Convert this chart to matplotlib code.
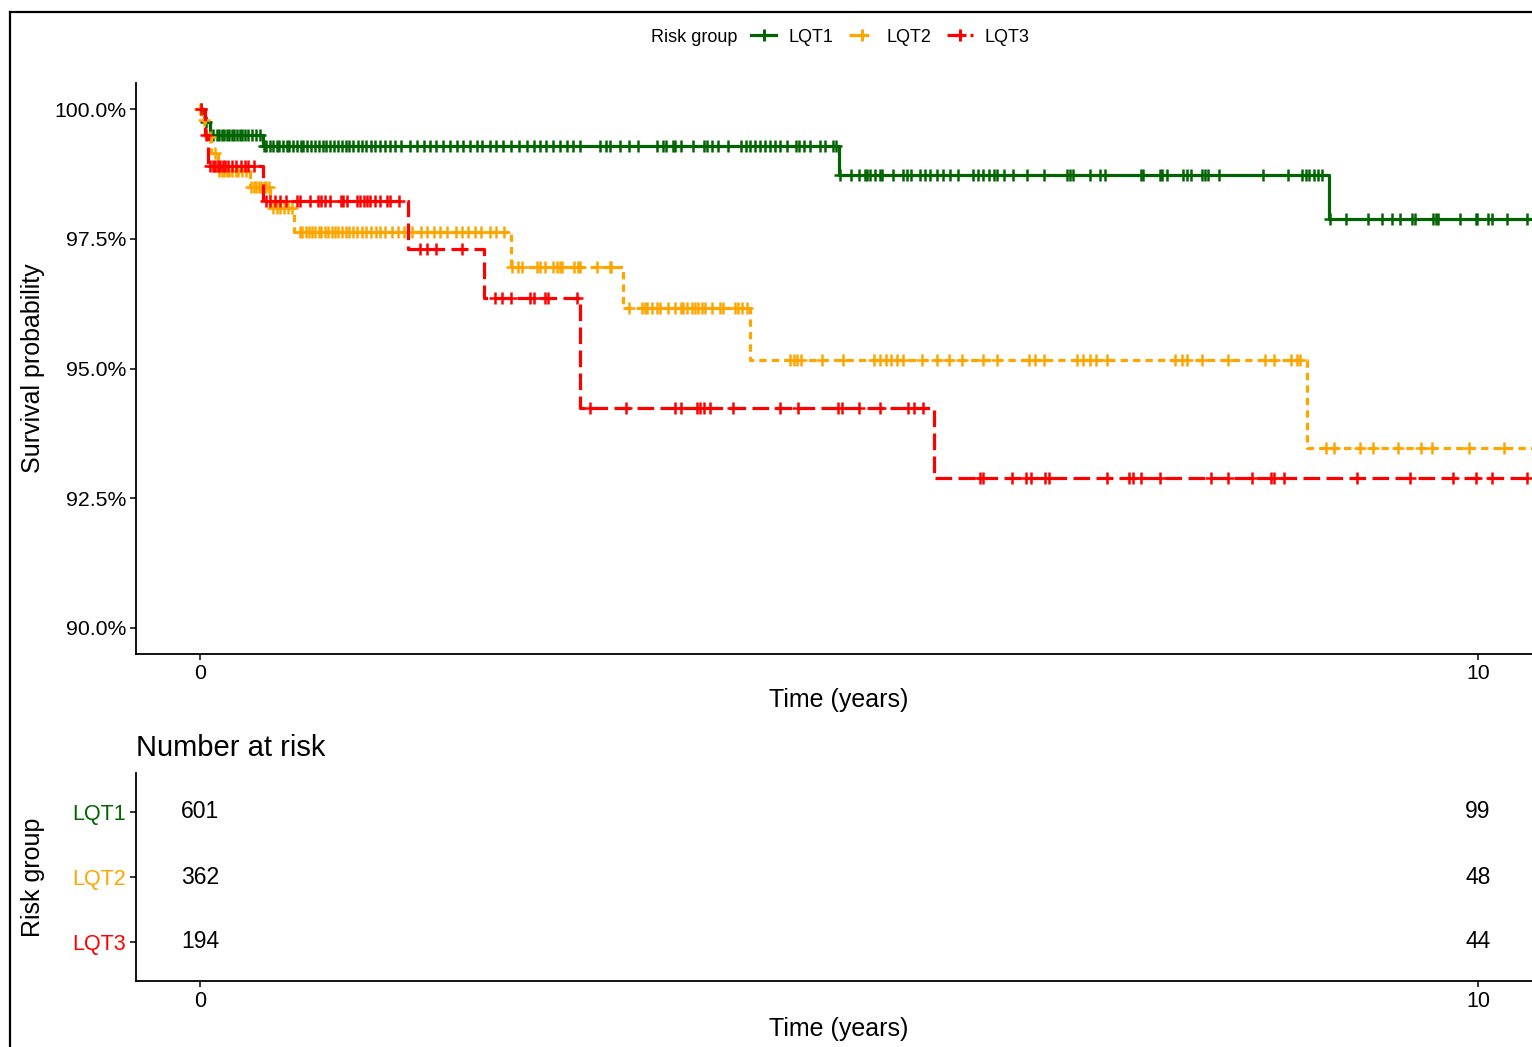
import numpy as np
import matplotlib
matplotlib.use("Agg")
import matplotlib.pyplot as plt
from matplotlib.ticker import PercentFormatter
from matplotlib.lines import Line2D

plt.rcParams['font.family'] = ['Liberation Sans', 'DejaVu Sans']

groups = ['LQT1', 'LQT2', 'LQT3']
colors = ['#006400', '#FFA500', '#FF0000']

# Kaplan-Meier steps: time of each drop (years) and survival after it
lqt1_t = [0, 0.03, 0.08, 0.49, 5.00, 8.83]
lqt1_s = [1.0, 0.9975, 0.9950, 0.9929, 0.9873, 0.9788]
lqt2_t = [0, 0.005, 0.04, 0.09, 0.14, 0.39, 0.55, 0.74, 2.43, 3.31, 4.30, 8.66]
lqt2_s = [1.0, 0.9979, 0.9946, 0.9915, 0.9881, 0.9850, 0.9809, 0.9763, 0.9696, 0.9617, 0.9516, 0.9347]
lqt3_t = [0, 0.04, 0.06, 0.49, 1.63, 2.22, 2.97, 5.74]
lqt3_s = [1.0, 0.9950, 0.9890, 0.9823, 0.9730, 0.9636, 0.9424, 0.9289]
last_followup = 11.0

# censored observations (years)
lqt1_cens = [0.01, 0.05, 0.1, 0.13, 0.15, 0.17, 0.19, 0.21, 0.23, 0.25, 0.27, 0.29, 0.31, 0.33, 0.35,
             0.38, 0.41, 0.44, 0.47,
             0.5, 0.52, 0.55, 0.57, 0.6, 0.62, 0.65, 0.68, 0.7, 0.73, 0.76, 0.79, 0.81, 0.84, 0.87,
             0.9, 0.93, 0.96, 0.99, 1.02, 1.05, 1.08, 1.11, 1.14, 1.17, 1.2, 1.24, 1.27, 1.3, 1.34,
             1.37, 1.41, 1.45, 1.49, 1.53, 1.57,
             1.64, 1.70, 1.75, 1.80, 1.85, 1.90, 1.96, 2.01, 2.06, 2.11, 2.17, 2.21, 2.27, 2.32,
             2.37, 2.43, 2.50, 2.56, 2.61, 2.66, 2.71, 2.76, 2.82, 2.87, 2.92, 2.97,
             3.13, 3.18, 3.21, 3.29, 3.36, 3.43, 3.58, 3.62, 3.65, 3.70, 3.72, 3.76, 3.86, 3.94,
             3.97, 4.01, 4.05, 4.13, 4.23, 4.27, 4.30, 4.34, 4.38, 4.42, 4.46, 4.50, 4.54, 4.59,
             4.66, 4.69, 4.73, 4.77, 4.85, 4.89, 4.95, 4.98,
             5.01, 5.09, 5.16, 5.20, 5.22, 5.24, 5.28, 5.32, 5.34, 5.42, 5.50, 5.53, 5.56, 5.63,
             5.67, 5.71, 5.77, 5.81, 5.87, 5.93, 6.05, 6.09, 6.13, 6.17, 6.21, 6.24, 6.29, 6.36,
             6.47, 6.60, 6.78, 6.81, 6.83, 6.96, 7.04, 7.08, 7.36, 7.38, 7.51, 7.53, 7.57, 7.69,
             7.72, 7.75, 7.84, 7.86, 7.89, 7.97, 8.32, 8.51, 8.62, 8.65, 8.68, 8.72, 8.75, 8.78,
             8.84, 8.97, 9.14, 9.25, 9.33, 9.39, 9.48, 9.51, 9.65, 9.67, 9.69, 9.86, 9.98, 9.99,
             10.08, 10.11, 10.23, 10.38]
lqt2_cens = [0.002, 0.03, 0.08, 0.12, 0.15, 0.17, 0.19, 0.21, 0.23, 0.25, 0.28, 0.3, 0.33, 0.36,
             0.40, 0.42, 0.44, 0.46, 0.48, 0.5, 0.52, 0.54,
             0.57, 0.6, 0.63, 0.66, 0.69, 0.72,
             0.78, 0.8, 0.83, 0.85, 0.88, 0.9, 0.93, 0.95, 0.98, 1.0, 1.03, 1.06, 1.08, 1.11,
             1.14, 1.17, 1.2, 1.23, 1.27, 1.3, 1.34, 1.38, 1.41, 1.45, 1.5, 1.55, 1.6, 1.66,
             1.73, 1.78, 1.83, 1.88, 1.93, 2.0, 2.05, 2.1, 2.15, 2.2, 2.27, 2.32, 2.38,
             2.44, 2.49, 2.52, 2.64, 2.66, 2.7, 2.76, 2.79, 2.82, 2.83, 2.93, 2.96, 2.97, 3.11,
             3.21, 3.22,
             3.36, 3.46, 3.48, 3.5, 3.54, 3.58, 3.6, 3.66, 3.72, 3.76, 3.78, 3.81, 3.85, 3.87,
             3.9, 3.93, 3.95, 4.01, 4.07, 4.09, 4.19, 4.21, 4.24, 4.28,
             4.62, 4.65, 4.67, 4.70, 4.87, 5.03, 5.27, 5.32, 5.37, 5.41, 5.45, 5.50, 5.65, 5.77,
             5.86, 5.96, 6.13, 6.24, 6.49, 6.53, 6.60, 6.86, 6.91, 6.96, 7.01, 7.10, 7.63, 7.68,
             7.72, 7.84, 8.04, 8.33, 8.40, 8.54, 8.58, 8.61,
             8.81, 8.87, 9.08, 9.18, 9.37, 9.55, 9.64, 9.93, 10.20]
lqt3_cens = [0.01, 0.05, 0.08, 0.1, 0.12, 0.14, 0.16, 0.18, 0.2, 0.22, 0.25, 0.28, 0.32, 0.35,
             0.38, 0.42,
             0.52, 0.55, 0.59, 0.63, 0.67, 0.76, 0.78, 0.86, 0.92, 0.95, 0.98, 1.02, 1.10, 1.12,
             1.15, 1.23, 1.25, 1.28, 1.31, 1.33, 1.37, 1.41, 1.46, 1.49, 1.56,
             1.72, 1.78, 1.85, 2.05,
             2.31, 2.36, 2.43, 2.58, 2.61, 2.70, 2.72, 2.95,
             3.05, 3.33, 3.72, 3.76, 3.89, 3.91, 3.94, 3.99, 4.17, 4.54, 4.68, 4.99, 5.02, 5.16,
             5.32, 5.54, 5.59, 5.66,
             6.10, 6.13, 6.35, 6.46, 6.50, 6.61, 6.64, 7.10, 7.27, 7.30, 7.36, 7.51, 7.91, 8.04,
             8.23, 8.38, 8.40, 8.48, 9.05, 9.47, 9.80, 9.98, 10.11, 10.38]

risk_times = [0, 10]
lqt1_risk = [601, 99]
lqt2_risk = [362, 48]
lqt3_risk = [194, 44]

curves = [(lqt1_t, lqt1_s, lqt1_cens), (lqt2_t, lqt2_s, lqt2_cens), (lqt3_t, lqt3_s, lqt3_cens)]
risks = [lqt1_risk, lqt2_risk, lqt3_risk]
styles = ['-', (0, (2.3, 1.6)), (0, (5.2, 2.0))]

W, H = 1532, 1047
fig = plt.figure(figsize=(W / 100, H / 100), dpi=100)

def box(left, top, right, bottom):
    return [left / W, 1 - bottom / H, (right - left) / W, (bottom - top) / H]

ax = fig.add_axes(box(136, 83, 1542, 654))
for (t, s, cens), col, ls in zip(curves, colors, styles):
    tt = list(t) + [last_followup]
    ss = list(s) + [s[-1]]
    ax.step(tt, ss, where='post', color=col, lw=2.3, linestyle=ls)
    idx = np.searchsorted(t, cens, side='right') - 1
    ax.plot(cens, np.array(s)[idx], '+', color=col, ms=9, mew=1.8, linestyle='none')

ax.set_xlim(-0.5, 10.5)
ax.set_ylim(0.8949, 1.0051)
ax.set_xticks([0, 10])
ax.set_yticks([0.90, 0.925, 0.95, 0.975, 1.0])
ax.yaxis.set_major_formatter(PercentFormatter(xmax=1, decimals=1))
ax.set_xlabel('Time (years)', fontsize=18, labelpad=4)
ax.set_ylabel('Survival probability', fontsize=18)
ax.yaxis.set_label_coords(-0.0645, 0.5)
for side in ['top', 'right']:
    ax.spines[side].set_visible(False)
for side in ['left', 'bottom']:
    ax.spines[side].set_linewidth(1.3)
ax.tick_params(labelsize=15.3, length=4, width=1.1, pad=3, colors='black')

# risk table
at = fig.add_axes(box(136, 773, 1542, 981))
ypos = [3, 2, 1]
for r, y in zip(risks, ypos):
    for xt, n in zip(risk_times, r):
        at.text(xt, y, str(n), ha='center', va='center', fontsize=16.5)
at.set_xlim(-0.5, 10.5)
at.set_ylim(0.4, 3.6)
at.set_xticks([0, 10])
at.set_yticks(ypos)
at.set_yticklabels(groups)
for lab, col in zip(at.get_yticklabels(), colors):
    lab.set_color(col)
at.set_xlabel('Time (years)', fontsize=18, labelpad=4)
at.set_ylabel('Risk group', fontsize=18)
at.yaxis.set_label_coords(-0.0645, 0.5)
at.set_title('Number at risk', loc='left', fontsize=21, pad=12)
for side in ['top', 'right']:
    at.spines[side].set_visible(False)
for side in ['left', 'bottom']:
    at.spines[side].set_linewidth(1.3)
at.tick_params(labelsize=15.5, length=4, width=1.1, pad=3)

# legend at the top
fig.text(651 / W, 1 - 37 / H, 'Risk group', fontsize=13, ha='left', va='center')
handles = [Line2D([0], [0], color=c, lw=2.3, linestyle=ls, marker='+', ms=9, mew=2.2)
           for c, ls in zip(colors, styles)]
fig.legend(handles, groups, loc='center left', bbox_to_anchor=(751 / W, 1 - 37 / H), ncol=3,
           frameon=False, fontsize=13, handlelength=1.4, handletextpad=0.65, columnspacing=0.9,
           borderpad=0, borderaxespad=0)

# outer frame
fig.add_artist(Line2D([10 / W, 1], [1 - 12 / H, 1 - 12 / H], color='black', lw=1.6,
                      transform=fig.transFigure))
fig.add_artist(Line2D([10 / W, 10 / W], [0, 1 - 12 / H], color='black', lw=1.6,
                      transform=fig.transFigure))

fig.savefig('out.png', dpi=100)
